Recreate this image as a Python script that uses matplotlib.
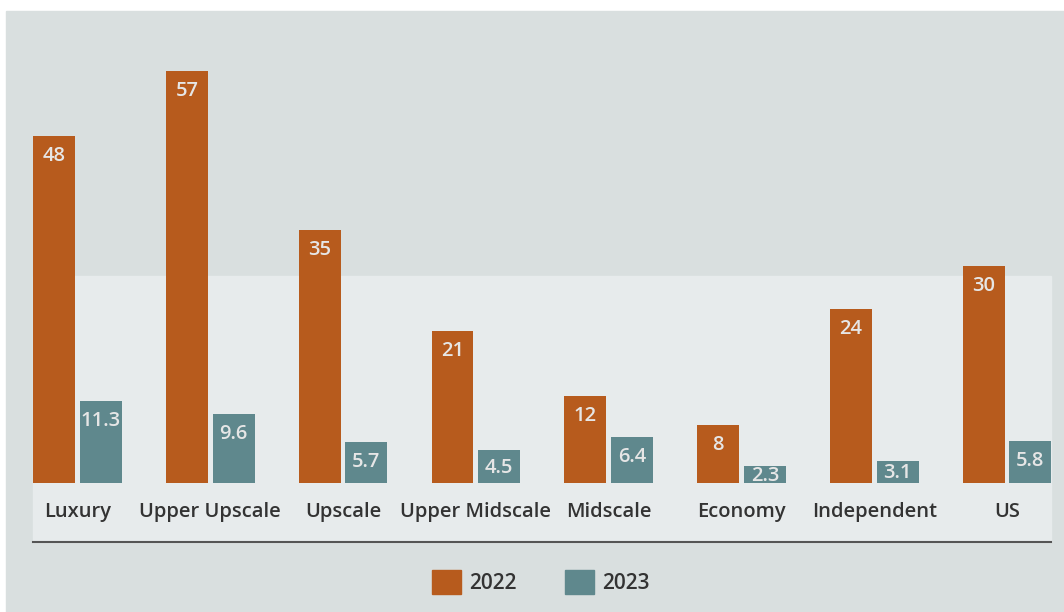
import matplotlib.pyplot as plt
import numpy as np
from matplotlib.patches import Rectangle, Patch
from matplotlib.lines import Line2D

# Data
categories = ['Luxury', 'Upper Upscale', 'Upscale', 'Upper Midscale',
              'Midscale', 'Economy', 'Independent', 'US']
vals_2022 = [48, 57, 35, 21, 12, 8, 24, 30]
vals_2023 = [11.3, 9.6, 5.7, 4.5, 6.4, 2.3, 3.1, 5.8]
labels_2022 = ['48', '57', '35', '21', '12', '8', '24', '30']
labels_2023 = ['11.3', '9.6', '5.7', '4.5', '6.4', '2.3', '3.1', '5.8']

orange = '#b75b1d'
teal = '#5f888d'
panel = '#d9dfdf'
light = '#e7ebec'
W, H = 1064, 612

plt.rcParams['font.family'] = ['Open Sans', 'DejaVu Sans']

fig = plt.figure(figsize=(W / 100, H / 100), dpi=100, facecolor='white')

# background panels (figure pixel coordinates)
fig.add_artist(Rectangle((6 / W, 0), 1 - 6 / W, 1 - 11 / H,
                         transform=fig.transFigure, color=panel, zorder=0))
fig.add_artist(Rectangle((33 / W, 1 - 542 / H), (1051 - 33) / W, (542 - 276) / H,
                         transform=fig.transFigure, color=light, zorder=0))
fig.add_artist(Line2D([33 / W, 1051 / W], [1 - 542 / H, 1 - 542 / H],
                      transform=fig.transFigure, color='#555555', lw=1.5, zorder=1))

ax = fig.add_axes([33 / W, (H - 483) / H, (1051 - 33) / W, 434 / H])
ax.set_facecolor('none')
ax.set_zorder(2)

x = np.arange(len(categories))
w = 0.316
off = 0.176
b1 = ax.bar(x - off, vals_2022, w, color=orange, label='2022')
b2 = ax.bar(x + off, vals_2023, w, color=teal, label='2023')

ax.set_xlim(-0.335, 7.331)
ax.set_ylim(0, 60)

# value labels: ~20 px below the bar top, but never below the bar's middle
px_per_unit = 434 / 60
for bars, labs in ((b1, labels_2022), (b2, labels_2023)):
    for r, t in zip(bars, labs):
        h = r.get_height()
        y = max(h - 20 / px_per_unit, h / 2 - 1 / px_per_unit)
        ax.text(r.get_x() + r.get_width() / 2, y, t,
                ha='center', va='center', color='#e6e6e6',
                fontsize=14.5, fontweight='semibold')

ax.set_xticks(x)
ax.set_xticklabels(categories, fontsize=14.5, color='#333333', fontweight='semibold')
ax.tick_params(axis='x', length=0, pad=14)
ax.set_yticks([])
for s in ax.spines.values():
    s.set_visible(False)

handles = [Patch(color=orange, label='2022'), Patch(color=teal, label='2023')]
leg = fig.legend(handles=handles, loc='center', bbox_to_anchor=(541 / W, 1 - 582 / H),
                 ncol=2, frameon=False, handlelength=1.4, handleheight=1.4,
                 handletextpad=0.4, columnspacing=2.3,
                 prop={'size': 15, 'weight': 'semibold'})
for t in leg.get_texts():
    t.set_color('#333333')

fig.savefig('out.png', dpi=100, facecolor='white')
